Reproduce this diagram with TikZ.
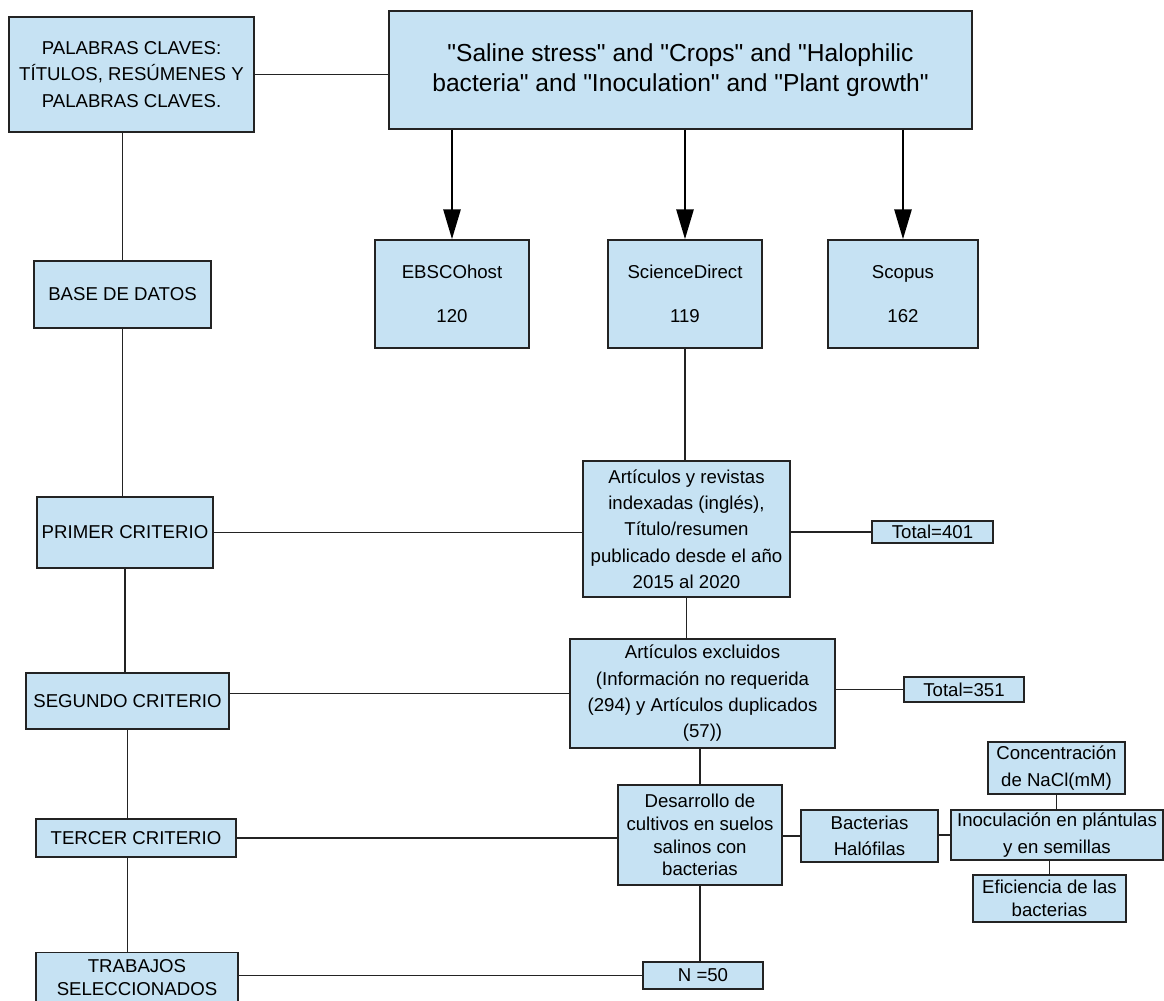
\documentclass[tikz,border=0pt]{standalone}
\usepackage{fontspec}
\setmainfont{Liberation Sans}[Ligatures=TeXOff]
\usepackage{xcolor}
\definecolor{boxblue}{RGB}{198,226,243}
\definecolor{edgegray}{RGB}{35,35,35}
\usepackage{tikz}
\usetikzlibrary{arrows.meta}
\tikzset{
  flowbox/.style={draw=edgegray, fill=boxblue, line width=0.8pt,
    inner sep=1pt, align=center,
    font=\fontsize{10.6}{15}\selectfont},
  tightbox/.style={flowbox, font=\fontsize{10.6}{13}\selectfont},
  link/.style={draw=edgegray, line width=0.8pt},
  arr/.style={-{Triangle[length=0.6cm, width=0.34cm]}, line width=1.6pt},
}

\begin{document}
\begin{tikzpicture}[x=0.02cm, y=-0.02cm]
  \useasboundingbox (0,0) rectangle (1164,1001);
  \clip (0,0) rectangle (1164,1001);
  \fill[white] (0,0) rectangle (1164,1001);

  % Search terms
  \node[flowbox, minimum width=4.9cm, minimum height=2.3cm] (pal) at (131.5,74.5)
    {PALABRAS CLAVES:\\TÍTULOS, RESÚMENES Y\\PALABRAS CLAVES.};
  \node[flowbox, font=\fontsize{14}{17}\selectfont,
        minimum width=11.66cm, minimum height=2.36cm] (query) at (680.5,70)
    {"Saline stress" and "Crops" and "Halophilic\\bacteria" and "Inoculation" and "Plant growth"};

  % Databases
  \node[flowbox, minimum width=3.08cm, minimum height=2.16cm] (ebsco) at (452,294) {EBSCOhost\\[10pt]120};
  \node[flowbox, minimum width=3.08cm, minimum height=2.16cm] (sd) at (685,294) {ScienceDirect\\[10pt]119};
  \node[flowbox, minimum width=3.0cm, minimum height=2.16cm] (scopus) at (903,294) {Scopus\\[10pt]162};

  % Left column
  \node[flowbox, minimum width=3.54cm, minimum height=1.34cm] (base) at (122.5,294.5) {BASE DE DATOS};
  \node[flowbox, minimum width=3.52cm, minimum height=1.42cm] (primer) at (125,532.5) {PRIMER CRITERIO};
  \node[flowbox, minimum width=4.06cm, minimum height=1.12cm] (segundo) at (127.5,701) {SEGUNDO CRITERIO};
  \node[flowbox, minimum width=4.0cm, minimum height=0.76cm] (tercer) at (136,838) {TERCER CRITERIO};
  \node[tightbox, anchor=north, minimum width=4.04cm, minimum height=1.0cm] (trab) at (137,952)
    {TRABAJOS\\SELECCIONADOS};

  % Criteria
  \node[flowbox, minimum width=4.14cm, minimum height=2.72cm] (art) at (686.5,529)
    {Artículos y revistas\\indexadas (inglés),\\Título/resumen\\publicado desde el año\\2015 al 2020};
  \node[flowbox, minimum width=2.42cm, minimum height=0.44cm, inner sep=0pt] (tot401) at (932.5,532) {Total=401};
  \node[flowbox, minimum width=5.3cm, minimum height=2.18cm] (excl) at (702.5,693.5)
    {Artículos excluidos\\(Información no requerida\\(294) y Artículos duplicados\\(57))};
  \node[flowbox, minimum width=2.4cm, minimum height=0.5cm, inner sep=0pt] (tot351) at (964,689.5) {Total=351};
  \node[tightbox, minimum width=3.28cm, minimum height=2.0cm] (desa) at (700,835)
    {Desarrollo de\\cultivos en suelos\\salinos con\\bacterias};
  \node[flowbox, minimum width=2.74cm, minimum height=1.04cm] (bact) at (869.5,836) {Bacterias\\Halófilas};
  \node[flowbox, minimum width=4.24cm, minimum height=1.0cm, inner sep=0pt] (inoc) at (1057,835)
    {Inoculación en plántulas\\y en semillas};
  \node[flowbox, minimum width=2.74cm, minimum height=1.04cm] (conc) at (1056.5,768) {Concentración\\de NaCl(mM)};
  \node[tightbox, minimum width=3.06cm, minimum height=0.94cm] (efic) at (1049.5,898.5) {Eficiencia de las\\bacterias};
  \node[flowbox, minimum width=2.4cm, minimum height=0.54cm, inner sep=0pt] (n50) at (703,975.5) {N =50};

  % Arrows to databases
  \draw[arr] (query.south -| ebsco) -- (ebsco.north);
  \draw[arr] (query.south -| sd) -- (sd.north);
  \draw[arr] (query.south -| scopus) -- (scopus.north);

  % Left spine
  \draw[link] (base.north) -- (base.north |- pal.south);
  \draw[link] (base.south) -- (base.south |- primer.north);
  \draw[link] (primer.south) -- (primer.south |- segundo.north);
  \draw[link] (segundo.south) -- (segundo.south |- tercer.north);
  \draw[link] (segundo.south |- tercer.south) -- (segundo.south |- trab.north);

  % Horizontal links
  \draw[link] (pal.east) -- (pal.east -| query.west);
  \draw[link] (primer.east) -- (primer.east -| art.west);
  \draw[link] (art.east |- tot401) -- (tot401.west);
  \draw[link] (segundo.east |- excl) -- (excl.west);
  \draw[link] (excl.east |- tot351) -- (tot351.west);
  \draw[link] (tercer.east) -- (tercer.east -| desa.west);
  \draw[link] (desa.east |- bact) -- (bact.west);
  \draw[link] (bact.east |- inoc) -- (inoc.west);
  \draw[link] (trab.east |- n50) -- (n50.west);

  % Vertical links
  \draw[link] (sd.south) -- (sd.south |- art.north);
  \draw[link] (art.south) -- (art.south |- excl.north);
  \draw[link] (desa.north) -- (desa.north |- excl.south);
  \draw[link] (desa.south) -- (desa.south |- n50.north);
  \draw[link] (conc.south) -- (conc.south |- inoc.north);
  \draw[link] (efic.north) -- (efic.north |- inoc.south);
\end{tikzpicture}
\end{document}
